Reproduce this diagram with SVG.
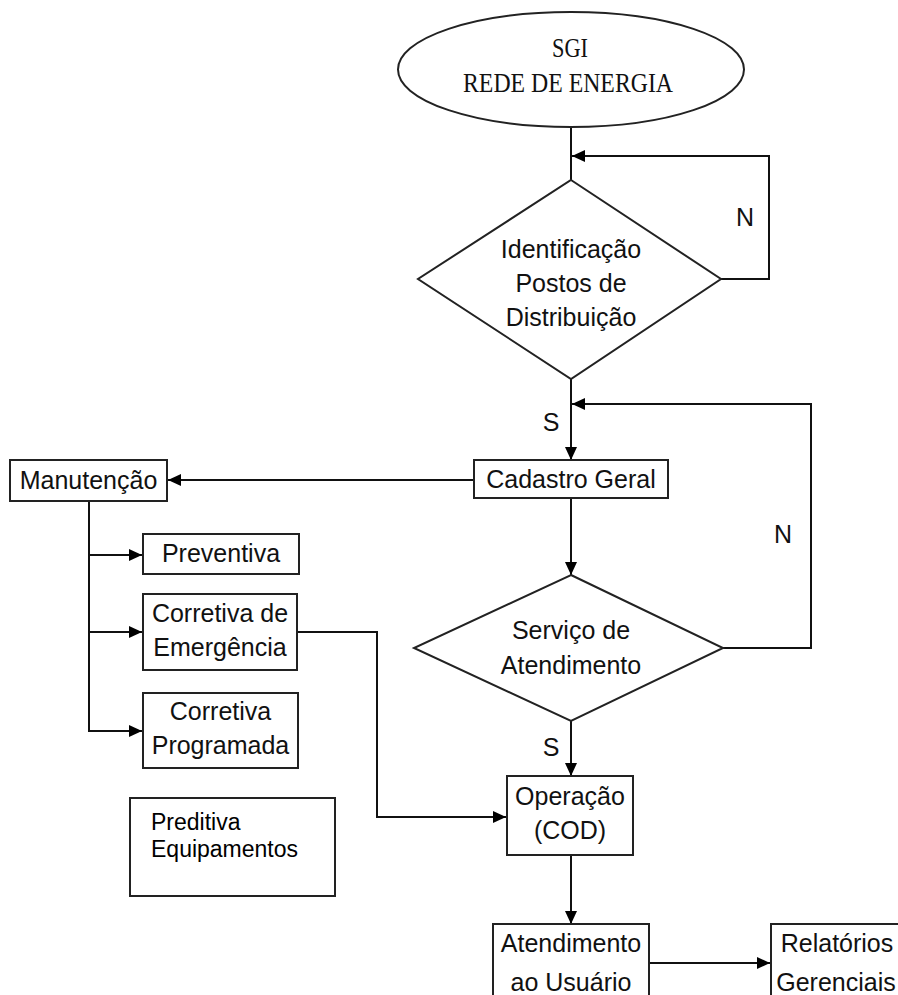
<svg xmlns="http://www.w3.org/2000/svg" width="898" height="995" viewBox="0 0 898 995">
<style>
.shape{fill:#fff;stroke:#222;stroke-width:2}
.line{fill:none;stroke:#111;stroke-width:2}
.t{font-family:"Liberation Sans",Arial,sans-serif;font-size:25px;fill:#111;text-anchor:middle}
.s{font-family:"Liberation Serif","Times New Roman",serif;font-size:27px;fill:#111;text-anchor:middle}
.p{font-family:"Liberation Sans",Arial,sans-serif;font-size:23px;fill:#000}
</style>
<defs>
<marker id="arr" markerUnits="userSpaceOnUse" markerWidth="14" markerHeight="12" refX="13" refY="6" orient="auto">
<path d="M0,0 L13,6 L0,12 Z" fill="#000"/>
</marker>
</defs>
<rect width="898" height="995" fill="#fff"/>
<g id="connectors">
<line class="line" x1="571" y1="127" x2="571" y2="180"/>
<polyline class="line" points="721,279 769,279 769,156 572,156" marker-end="url(#arr)"/>
<line class="line" x1="571" y1="379" x2="571" y2="460" marker-end="url(#arr)"/>
<polyline class="line" points="723,648 811,648 811,404 572,404" marker-end="url(#arr)"/>
<line class="line" x1="474" y1="480" x2="168" y2="480" marker-end="url(#arr)"/>
<line class="line" x1="571" y1="498" x2="571" y2="575" marker-end="url(#arr)"/>
<polyline class="line" points="89,501 89,731 142,731" marker-end="url(#arr)"/>
<line class="line" x1="89" y1="555" x2="142" y2="555" marker-end="url(#arr)"/>
<line class="line" x1="89" y1="632" x2="142" y2="632" marker-end="url(#arr)"/>
<polyline class="line" points="297,632 377,632 377,817 506,817" marker-end="url(#arr)"/>
<line class="line" x1="571" y1="721" x2="571" y2="776" marker-end="url(#arr)"/>
<line class="line" x1="571" y1="855" x2="571" y2="924" marker-end="url(#arr)"/>
<line class="line" x1="649" y1="963" x2="770" y2="963" marker-end="url(#arr)"/>
<text class="t" x="745" y="226">N</text>
<text class="t" x="783" y="543">N</text>
<text class="t" x="551" y="431">S</text>
<text class="t" x="551" y="756">S</text>
</g>
<g id="sgi">
<ellipse class="shape" cx="571" cy="69.5" rx="173" ry="57.5"/>
<text class="s" x="570" y="57" textLength="36" lengthAdjust="spacingAndGlyphs">SGI</text>
<text class="s" x="568" y="92" textLength="210" lengthAdjust="spacingAndGlyphs">REDE DE ENERGIA</text>
</g>
<g id="identificacao">
<polygon class="shape" points="571,180 721,279 571,379 418,279"/>
<text class="t" x="571" y="258">Identificação</text>
<text class="t" x="571" y="292">Postos de</text>
<text class="t" x="571" y="326">Distribuição</text>
</g>
<g id="cadastro">
<rect class="shape" x="474" y="460" width="194" height="38"/>
<text class="t" x="571" y="488">Cadastro Geral</text>
</g>
<g id="manutencao">
<rect class="shape" x="10" y="460" width="157" height="41"/>
<text class="t" x="88.5" y="489">Manutenção</text>
</g>
<g id="preventiva">
<rect class="shape" x="143" y="534" width="156" height="40"/>
<text class="t" x="221" y="562">Preventiva</text>
</g>
<g id="corretiva-emergencia">
<rect class="shape" x="143" y="594" width="154" height="76"/>
<text class="t" x="220" y="622">Corretiva de</text>
<text class="t" x="220" y="656">Emergência</text>
</g>
<g id="corretiva-programada">
<rect class="shape" x="143" y="693" width="155" height="75"/>
<text class="t" x="220.5" y="720">Corretiva</text>
<text class="t" x="220.5" y="754">Programada</text>
</g>
<g id="preditiva">
<rect class="shape" x="130" y="798" width="205" height="98"/>
<text class="p" x="151" y="830">Preditiva</text>
<text class="p" x="151" y="857">Equipamentos</text>
</g>
<g id="servico">
<polygon class="shape" points="571,575 723,648 571,721 414,648"/>
<text class="t" x="571" y="639">Serviço de</text>
<text class="t" x="571" y="674">Atendimento</text>
</g>
<g id="operacao">
<rect class="shape" x="507" y="776" width="126" height="79"/>
<text class="t" x="570" y="805">Operação</text>
<text class="t" x="570" y="839">(COD)</text>
</g>
<g id="atendimento-usuario">
<rect class="shape" x="493" y="924" width="156" height="90"/>
<text class="t" x="571" y="952">Atendimento</text>
<text class="t" x="571" y="991">ao Usuário</text>
</g>
<g id="relatorios">
<rect class="shape" x="771" y="924" width="140" height="90"/>
<text class="t" x="837" y="952">Relatórios</text>
<text class="t" x="836" y="991">Gerenciais</text>
</g>
</svg>
